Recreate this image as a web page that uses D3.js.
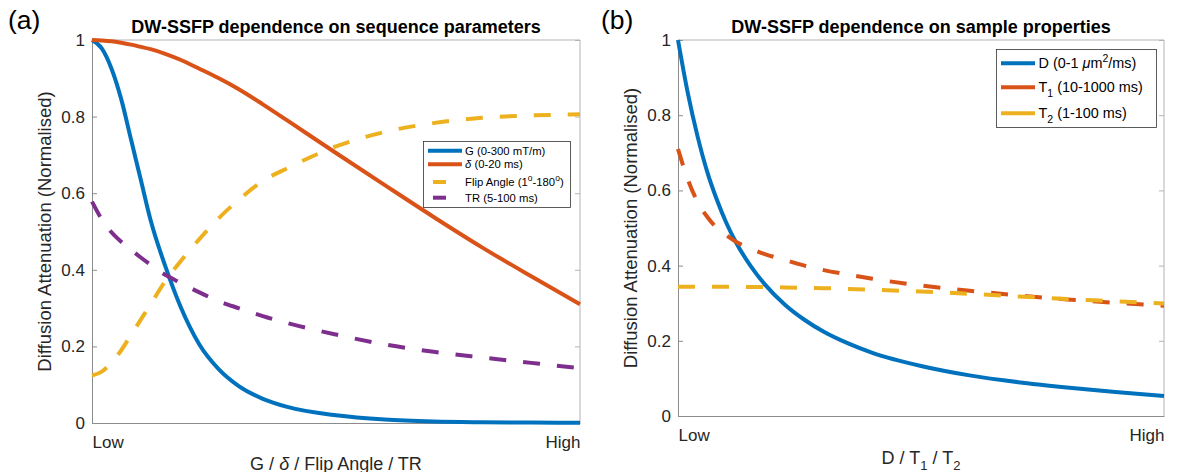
<!DOCTYPE html>
<html>
<head>
<meta charset="utf-8">
<script src="https://cdn.jsdelivr.net/npm/d3@7"></script>
<style>
  html, body { margin: 0; padding: 0; background: #fff; }
  svg { display: block; font-family: "Liberation Sans", Arial, Helvetica, sans-serif; }
</style>
</head>
<body>
<svg id="fig" width="1181" height="472"></svg>
<script>
// Normalised parameter position (Low -> High), shared by every curve
const tGrid = [0, 0.02, 0.04, 0.06, 0.08, 0.10, 0.12, 0.15, 0.18, 0.22,
               0.26, 0.30, 0.35, 0.40, 0.50, 0.60, 0.70, 0.80, 0.90, 1.0];

// Panel (a): sequence parameters
const gradG    = [1.0, 0.978, 0.925, 0.845, 0.74, 0.635, 0.53, 0.41, 0.308, 0.205,
                  0.14, 0.097, 0.063, 0.042, 0.02, 0.009, 0.004, 0.002, 0.001, 0.0005];
const deltaDur = [1.0, 0.999, 0.997, 0.993, 0.988, 0.982, 0.976, 0.964, 0.949, 0.925,
                  0.9, 0.872, 0.832, 0.79, 0.705, 0.621, 0.538, 0.458, 0.383, 0.31];
const flipAng  = [0.124, 0.134, 0.158, 0.19, 0.23, 0.27, 0.31, 0.37, 0.42, 0.48,
                  0.535, 0.582, 0.632, 0.665, 0.722, 0.76, 0.783, 0.797, 0.803, 0.806];
const repTime  = [0.578, 0.532, 0.498, 0.473, 0.452, 0.432, 0.413, 0.387, 0.367, 0.341,
                  0.318, 0.3, 0.279, 0.261, 0.231, 0.205, 0.186, 0.171, 0.157, 0.143];

// Panel (b): sample properties
const diffD  = [1.0, 0.86, 0.745, 0.65, 0.575, 0.512, 0.46, 0.398, 0.348, 0.296,
                0.256, 0.224, 0.193, 0.168, 0.133, 0.108, 0.09, 0.076, 0.064, 0.053];
const relaxT1 = [0.71, 0.63, 0.57, 0.53, 0.5, 0.48, 0.463, 0.445, 0.43, 0.415,
                 0.4, 0.388, 0.376, 0.365, 0.347, 0.333, 0.321, 0.31, 0.301, 0.293];
const relaxT2 = [0.344, 0.344, 0.344, 0.344, 0.344, 0.344, 0.344, 0.343, 0.343, 0.342,
                 0.341, 0.34, 0.338, 0.336, 0.331, 0.325, 0.318, 0.311, 0.305, 0.299];

// Axis ticks and labels
const yTicks = [0, 0.2, 0.4, 0.6, 0.8, 1];
const xTickLabels = ["Low", "High"];

const COL = { blue: "#0072BD", orange: "#D95319", yellow: "#EDB120", purple: "#7E2F8E" };
const DASH = "17,17";
const svg = d3.select("#fig");

function panel(opts) {
  const x = d3.scaleLinear().domain([0, 1]).range([opts.left, opts.right]);
  const y = d3.scaleLinear().domain([0, 1]).range([opts.bottom, opts.top]);
  const g = svg.append("g");

  // box
  g.append("line").attr("x1", opts.left).attr("x2", opts.right).attr("y1", opts.top).attr("y2", opts.top)
    .attr("stroke", "#b3b3b3").attr("stroke-width", 1);
  g.append("line").attr("x1", opts.right).attr("x2", opts.right).attr("y1", opts.top).attr("y2", opts.bottom)
    .attr("stroke", "#b3b3b3").attr("stroke-width", 1);

  // left axis: inward ticks with labels
  const yAxis = d3.axisLeft(y).tickValues(yTicks)
    .tickFormat(d => d === 0 ? "0" : d === 1 ? "1" : d3.format(".1f")(d))
    .tickSizeInner(-5).tickSizeOuter(0).tickPadding(7);
  const ya = g.append("g").attr("transform", `translate(${opts.left},0)`).call(yAxis);
  ya.select(".domain").attr("stroke", "#8c8c8c");
  ya.selectAll(".tick line").attr("stroke", "#8c8c8c");
  ya.selectAll(".tick text").attr("font-size", 17).attr("fill", "#262626")
    .attr("font-family", "Liberation Sans, Arial, sans-serif");

  // right border ticks
  const yAxisR = d3.axisRight(y).tickValues(yTicks).tickFormat("")
    .tickSizeInner(-5).tickSizeOuter(0);
  const yr = g.append("g").attr("transform", `translate(${opts.right},0)`).call(yAxisR);
  yr.select(".domain").remove();
  yr.selectAll(".tick line").attr("stroke", "#b3b3b3");

  // bottom axis: Low / High at the ends
  const xAxis = d3.axisBottom(x).tickValues([0, 1]).tickFormat((d, i) => xTickLabels[i])
    .tickSize(0).tickSizeOuter(0);
  const xa = g.append("g").attr("transform", `translate(0,${opts.bottom})`).call(xAxis);
  xa.select(".domain").attr("stroke", "#8c8c8c");
  xa.selectAll(".tick text").attr("font-size", 17).attr("fill", "#262626")
    .attr("font-family", "Liberation Sans, Arial, sans-serif")
    .attr("y", 24.5).attr("dy", 0)
    .attr("text-anchor", (d, i) => i === 0 ? "start" : "end");

  // curves
  const line = d3.line().x((d, i) => x(tGrid[i])).y(d => y(d)).curve(d3.curveMonotoneX);
  opts.series.forEach(s => {
    g.append("path").datum(s.values)
      .attr("d", line)
      .attr("fill", "none")
      .attr("stroke", s.color)
      .attr("stroke-width", 4)
      .attr("stroke-dasharray", s.dashed ? DASH : null);
  });

  // title
  g.append("text").attr("x", (opts.left + opts.right) / 2).attr("y", 32.5)
    .attr("text-anchor", "middle").attr("font-weight", "bold").attr("font-size", 18)
    .attr("fill", "#000").text(opts.title);

  // panel letter
  g.append("text").attr("x", opts.letterX).attr("y", 29).attr("font-size", 26.5)
    .attr("fill", "#000").text(opts.letter);

  // y label
  g.append("text")
    .attr("transform", `translate(${opts.left - 41},${(opts.top + opts.bottom) / 2}) rotate(-90)`)
    .attr("text-anchor", "middle").attr("font-size", 18.5).attr("fill", "#262626")
    .text("Diffusion Attenuation (Normalised)");

  // x label
  const xl = g.append("text").attr("x", (opts.left + opts.right) / 2).attr("y", opts.xLabelY)
    .attr("text-anchor", "middle").attr("font-size", 18).attr("fill", "#262626");
  opts.xLabel(xl);

  return { x, y, g };
}

// ---------- Panel (a) ----------
const pa = panel({
  left: 92, right: 580, top: 40, bottom: 423,
  title: "DW-SSFP dependence on sequence parameters",
  letter: "(a)", letterX: 8, xLabelY: 469.5,
  series: [
    { values: gradG, color: COL.blue, dashed: false },
    { values: deltaDur, color: COL.orange, dashed: false },
    { values: flipAng, color: COL.yellow, dashed: true },
    { values: repTime, color: COL.purple, dashed: true }
  ],
  xLabel: t => {
    t.append("tspan").text("G / ");
    t.append("tspan").attr("font-style", "italic").text("δ");
    t.append("tspan").text(" / Flip Angle / TR");
  }
});

// legend (a)
{
  const lg = pa.g.append("g");
  lg.append("rect").attr("x", 423.5).attr("y", 141.5).attr("width", 147).attr("height", 66)
    .attr("fill", "#fff").attr("stroke", "#333").attr("stroke-width", 0.8);
  const items = [
    { y: 150.7, color: COL.blue, long: true, label: t => t.append("tspan").text("G (0-300 mT/m)") },
    { y: 164.3, color: COL.orange, long: true, label: t => {
        t.append("tspan").attr("font-style", "italic").text("δ");
        t.append("tspan").text(" (0-20 ms)"); } },
    { y: 182, color: COL.yellow, long: false, label: t => {
        t.append("tspan").text("Flip Angle (1");
        t.append("tspan").attr("dy", -5).attr("font-size", 8.5).text("o");
        t.append("tspan").attr("dy", 5).text("-180");
        t.append("tspan").attr("dy", -5).attr("font-size", 8.5).text("o");
        t.append("tspan").attr("dy", 5).text(")"); } },
    { y: 197.7, color: COL.purple, long: false, label: t => t.append("tspan").text("TR (5-100 ms)") }
  ];
  items.forEach(it => {
    lg.append("line")
      .attr("x1", it.long ? 428 : 433).attr("x2", it.long ? 462 : 446)
      .attr("y1", it.y).attr("y2", it.y)
      .attr("stroke", it.color).attr("stroke-width", 4);
    const t = lg.append("text").attr("x", 465).attr("y", it.y + 4)
      .attr("font-size", 11.3).attr("fill", "#000");
    it.label(t);
  });
}

// ---------- Panel (b) ----------
const pb = panel({
  left: 678, right: 1164, top: 40, bottom: 416,
  title: "DW-SSFP dependence on sample properties",
  letter: "(b)", letterX: 601, xLabelY: 464,
  series: [
    { values: diffD, color: COL.blue, dashed: false },
    { values: relaxT1, color: COL.orange, dashed: true },
    { values: relaxT2, color: COL.yellow, dashed: true }
  ],
  xLabel: t => {
    t.append("tspan").text("D / T");
    t.append("tspan").attr("dy", 6).attr("font-size", 13).text("1");
    t.append("tspan").attr("dy", -6).text(" / T");
    t.append("tspan").attr("dy", 6).attr("font-size", 13).text("2");
  }
});

// legend (b)
{
  const lg = pb.g.append("g");
  lg.append("rect").attr("x", 996.5).attr("y", 49.5).attr("width", 160).attr("height", 78)
    .attr("fill", "#fff").attr("stroke", "#333").attr("stroke-width", 0.8);
  const items = [
    { y: 63.3, color: COL.blue, label: t => {
        t.append("tspan").text("D (0-1 ");
        t.append("tspan").attr("font-style", "italic").text("μ");
        t.append("tspan").text("m");
        t.append("tspan").attr("dy", -6).attr("font-size", 10.5).text("2");
        t.append("tspan").attr("dy", 6).text("/ms)"); } },
    { y: 87.3, color: COL.orange, label: t => {
        t.append("tspan").text("T");
        t.append("tspan").attr("dy", 5).attr("font-size", 10.5).text("1");
        t.append("tspan").attr("dy", -5).text(" (10-1000 ms)"); } },
    { y: 113.3, color: COL.yellow, label: t => {
        t.append("tspan").text("T");
        t.append("tspan").attr("dy", 5).attr("font-size", 10.5).text("2");
        t.append("tspan").attr("dy", -5).text(" (1-100 ms)"); } }
  ];
  items.forEach(it => {
    lg.append("line").attr("x1", 1001).attr("x2", 1035)
      .attr("y1", it.y).attr("y2", it.y)
      .attr("stroke", it.color).attr("stroke-width", 4);
    const t = lg.append("text").attr("x", 1038.5).attr("y", it.y + 5)
      .attr("font-size", 14.4).attr("fill", "#000");
    it.label(t);
  });
}
</script>
</body>
</html>
